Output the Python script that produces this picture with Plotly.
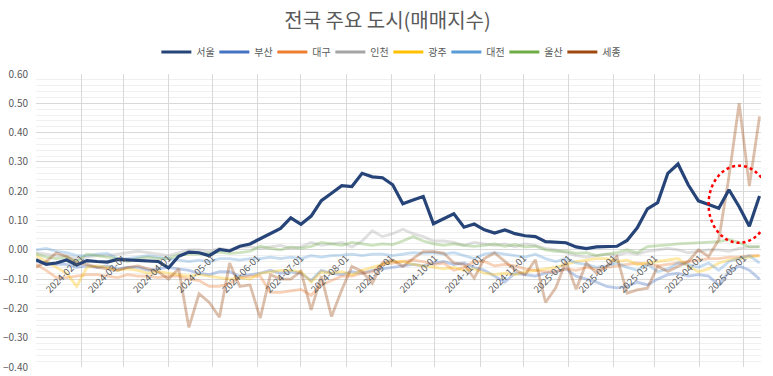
import pandas as pd
import plotly.graph_objects as go

dates = pd.date_range("2024-01-01", periods=72, freq="7D")

seoul = [-0.034, -0.05, -0.045, -0.035, -0.052, -0.037, -0.04, -0.042, -0.033, -0.035, -0.036, -0.037, -0.04,
         -0.062, -0.022, -0.008, -0.01, -0.02, 0.001, -0.004, 0.012, 0.02, 0.038, 0.058, 0.073, 0.109, 0.087,
         0.115, 0.168, 0.193, 0.219, 0.216, 0.261, 0.249, 0.246, 0.222, 0.157, 0.17, 0.182, 0.089, 0.106, 0.123,
         0.077, 0.088, 0.068, 0.057, 0.068, 0.055, 0.048, 0.045, 0.028, 0.026, 0.024, 0.01, 0.004, 0.01, 0.011,
         0.012, 0.032, 0.075, 0.14, 0.161, 0.261, 0.293, 0.222, 0.167, 0.155, 0.142, 0.205, 0.147, 0.08, 0.184]

busan = [-0.04, -0.045, -0.05, -0.05, -0.06, -0.055, -0.06, -0.055, -0.065, -0.06, -0.06, -0.07, -0.065, -0.06,
         -0.065, -0.07, -0.08, -0.085, -0.075, -0.075, -0.09, -0.085, -0.08, -0.07, -0.08,
         -0.075, -0.08, -0.105, -0.07, -0.08, -0.085, -0.075, -0.08, -0.07, -0.065,
         -0.06, -0.055, -0.05, -0.055, -0.045, -0.04, -0.05, -0.045, -0.06, -0.07,
         -0.09, -0.11, -0.08, -0.085, -0.09, -0.08, -0.075, -0.065, -0.09, -0.1, -0.11,
         -0.125, -0.13, -0.125, -0.11, -0.12, -0.1, -0.085, -0.08, -0.09, -0.085, -0.09, -0.12, -0.075, -0.055,
         -0.07, -0.10]

daegu = [-0.05, -0.07, -0.095, -0.095, -0.09, -0.085, -0.085, -0.09, -0.095, -0.085, -0.09, -0.09, -0.095, -0.09,
         -0.09, -0.1, -0.105, -0.125, -0.125, -0.115, -0.095, -0.09, -0.09, -0.145, -0.145,
         -0.14, -0.135, -0.155, -0.12, -0.105, -0.09, -0.09, -0.08, -0.075, -0.05,
         -0.045, -0.04, -0.035, -0.04, -0.05, -0.045, -0.07, -0.06, -0.04, -0.04,
         -0.055, -0.05, -0.055, -0.065, -0.07, -0.075, -0.075, -0.065, -0.07, -0.06, -0.065,
         -0.06, -0.055, -0.05, -0.045, -0.05, -0.055, -0.05, -0.045, -0.04, -0.035, -0.03, -0.03, -0.025, -0.025,
         -0.02, -0.02]

incheon = [-0.01, -0.015, -0.02, -0.02, -0.03, -0.025, -0.02, -0.02, -0.015, -0.01, -0.005, -0.01, -0.015, -0.02,
           -0.01, 0.0, 0.0, -0.005, 0.005, 0.0, 0.01, 0.01, 0.005, 0.01, 0.015,
           0.005, 0.01, 0.025, 0.015, 0.02, 0.025, 0.01, 0.03, 0.065, 0.045,
           0.055, 0.07, 0.055, 0.045, 0.03, 0.03, 0.025, 0.015, 0.025, 0.02,
           0.015, 0.02, 0.01, 0.02, 0.015, 0.005, 0.0, -0.01, -0.02, -0.025, -0.02,
           -0.015, -0.02, -0.01, -0.015, -0.005, 0.0, 0.005, 0.0, -0.01, -0.005, 0.0, 0.0, -0.005, 0.005,
           0.01, 0.01]

gwangju = [-0.02, -0.04, -0.06, -0.08, -0.125, -0.06, -0.055, -0.06, -0.07, -0.065, -0.07, -0.08, -0.075, -0.08,
           -0.085, -0.09, -0.085, -0.09, -0.095, -0.1, -0.095, -0.1, -0.08, -0.075, -0.07,
           -0.07, -0.075, -0.11, -0.075, -0.08, -0.075, -0.085, -0.07, -0.06, -0.05,
           -0.04, -0.04, -0.05, -0.055, -0.06, -0.065, -0.06, -0.07, -0.065, -0.08,
           -0.085, -0.08, -0.085, -0.075, -0.07, -0.065, -0.06, -0.05, -0.04, -0.035, -0.03,
           -0.03, -0.04, -0.035, -0.05, -0.045, -0.04, -0.035, -0.03, -0.055, -0.075, -0.065, -0.045, -0.035, -0.03,
           -0.025, -0.02]

daejeon = [0.0, 0.005, -0.005, -0.01, -0.02, -0.02, -0.015, -0.012, -0.03, -0.03, -0.025, -0.02, -0.025, -0.03,
           -0.035, -0.04, -0.035, -0.04, -0.03, -0.03, -0.035, -0.03, -0.03, -0.025, -0.03,
           -0.025, -0.03, -0.02, -0.025, -0.02, -0.018, -0.015, -0.02, -0.015, -0.015,
           -0.02, -0.015, -0.01, -0.012, -0.01, -0.015, -0.01, -0.02, -0.03, -0.015,
           -0.01, -0.015, -0.02, -0.025, -0.015, -0.03, -0.04, -0.03, -0.045, -0.05, -0.06,
           -0.055, -0.045, -0.06, -0.07, -0.05, -0.075, -0.065, -0.045, -0.05, -0.06, -0.045, -0.07, -0.04, -0.03,
           -0.02, -0.045]

ulsan = [-0.014, -0.025, -0.03, -0.025, -0.04, -0.015, -0.02, -0.025, -0.03, -0.04, -0.03, -0.025, -0.03, -0.03,
         -0.017, -0.015, -0.015, -0.012, -0.008, -0.012, -0.01, -0.005, 0.012, 0.005, 0.0,
         0.01, 0.005, 0.012, 0.025, 0.02, 0.015, 0.025, 0.02, 0.015, 0.02,
         0.018, 0.03, 0.045, 0.03, 0.02, 0.015, 0.02, 0.015, 0.012, 0.015,
         0.02, 0.012, 0.018, 0.01, 0.012, 0.0, -0.005, -0.005, -0.012, -0.01, -0.02,
         -0.015, -0.01, 0.0, -0.01, 0.011, 0.015, 0.017, 0.02, 0.022, 0.023, 0.025, 0.028, 0.035, 0.025,
         0.01, 0.011]

sejong = [-0.06, -0.04, -0.01, -0.023, -0.045, -0.05, -0.06, -0.065, -0.07, -0.06, -0.055, -0.065, -0.075, -0.10,
          -0.065, -0.265, -0.15, -0.18, -0.23, -0.045, -0.125, -0.12, -0.233, -0.085, -0.10,
          -0.10, -0.074, -0.205, -0.09, -0.228, -0.137, -0.057, -0.074, -0.114, -0.045,
          -0.035, -0.057, -0.03, -0.006, -0.006, -0.011, -0.045, -0.05, -0.097, -0.03,
          -0.011, -0.04, -0.068, -0.085, -0.034, -0.18, -0.13, -0.04, -0.135, -0.045, -0.08,
          -0.057, -0.023, -0.148, -0.137, -0.131, -0.057, -0.074, -0.057, -0.04, 0.0, -0.023, 0.034, 0.25, 0.50,
          0.218, 0.455]

names = ["서울", "부산", "대구", "인천", "광주", "대전", "울산", "세종"]
series = [seoul, busan, daegu, incheon, gwangju, daejeon, ulsan, sejong]
colors = ["#264478", "#4472C4", "#ED7D31", "#A5A5A5", "#FFC000", "#5B9BD5", "#70AD47", "#9E480E"]

FONT = "Noto Sans CJK KR, Noto Sans, sans-serif"
TXT = "#595959"

fig = go.Figure()

# faded series (drawn first, beneath Seoul)
for name, vals, col in list(zip(names, series, colors))[1:]:
    fig.add_trace(go.Scatter(x=dates, y=vals, mode="lines", name=name, showlegend=False,
                             line=dict(color=col, width=2.8), opacity=0.34, hoverinfo="skip"))

fig.add_trace(go.Scatter(x=dates, y=seoul, mode="lines", name="서울", showlegend=False,
                         line=dict(color=colors[0], width=3.2)))

# legend entries at full colour
for name, col in zip(names, colors):
    fig.add_trace(go.Scatter(x=[None], y=[None], mode="lines", name=name,
                             line=dict(color=col, width=3)))

fig.add_shape(type="circle", xref="x", yref="y",
              x0="2025-04-07", x1="2025-05-19", y0=0.024, y1=0.287,
              line=dict(color="#FF0000", width=2.5, dash="dot"))

fig.update_layout(
    width=773, height=376,
    margin=dict(l=36, r=12, t=74, b=9),
    paper_bgcolor="white", plot_bgcolor="white",
    font=dict(family=FONT, color=TXT),
    title=dict(text="전국 주요 도시(매매지수)", x=(387.5 / 773), xanchor="center",
               y=1 - 21 / 376, yanchor="middle",
               font=dict(size=20, color=TXT, family=FONT)),
    legend=dict(orientation="h", x=0.486, xanchor="center", y=1.075, yanchor="middle",
                font=dict(size=10, color=TXT), itemwidth=30, tracegroupgap=0,
                entrywidth=13, entrywidthmode="pixels",
                bgcolor="rgba(0,0,0,0)"),
    showlegend=True,
)

fig.update_xaxes(
    type="date", range=["2024-01-01", "2025-05-13"],
    anchor="free", position=0.4,
    tick0="2024-01-01", dtick="M1", tickformat="%Y-%m-%d",
    tickangle=-45, ticks="", tickfont=dict(size=9.5, color=TXT),
    showgrid=True, gridcolor="#D9D9D9", gridwidth=1,
    showline=False, zeroline=False, automargin=False,
)
fig.update_yaxes(
    range=[-0.4, 0.6], dtick=0.1, tick0=0, tickformat=".2f",
    tickfont=dict(size=10, color=TXT), ticks="", ticklabelstandoff=7,
    showgrid=True, gridcolor="#D9D9D9", gridwidth=1,
    minor=dict(dtick=0.02, showgrid=True, gridcolor="#F0F0F0", gridwidth=1),
    zeroline=False, showline=False, automargin=False,
)

fig.write_html("out.html", config={"displayModeBar": False},
               post_script="document.body.style.margin='0';")
